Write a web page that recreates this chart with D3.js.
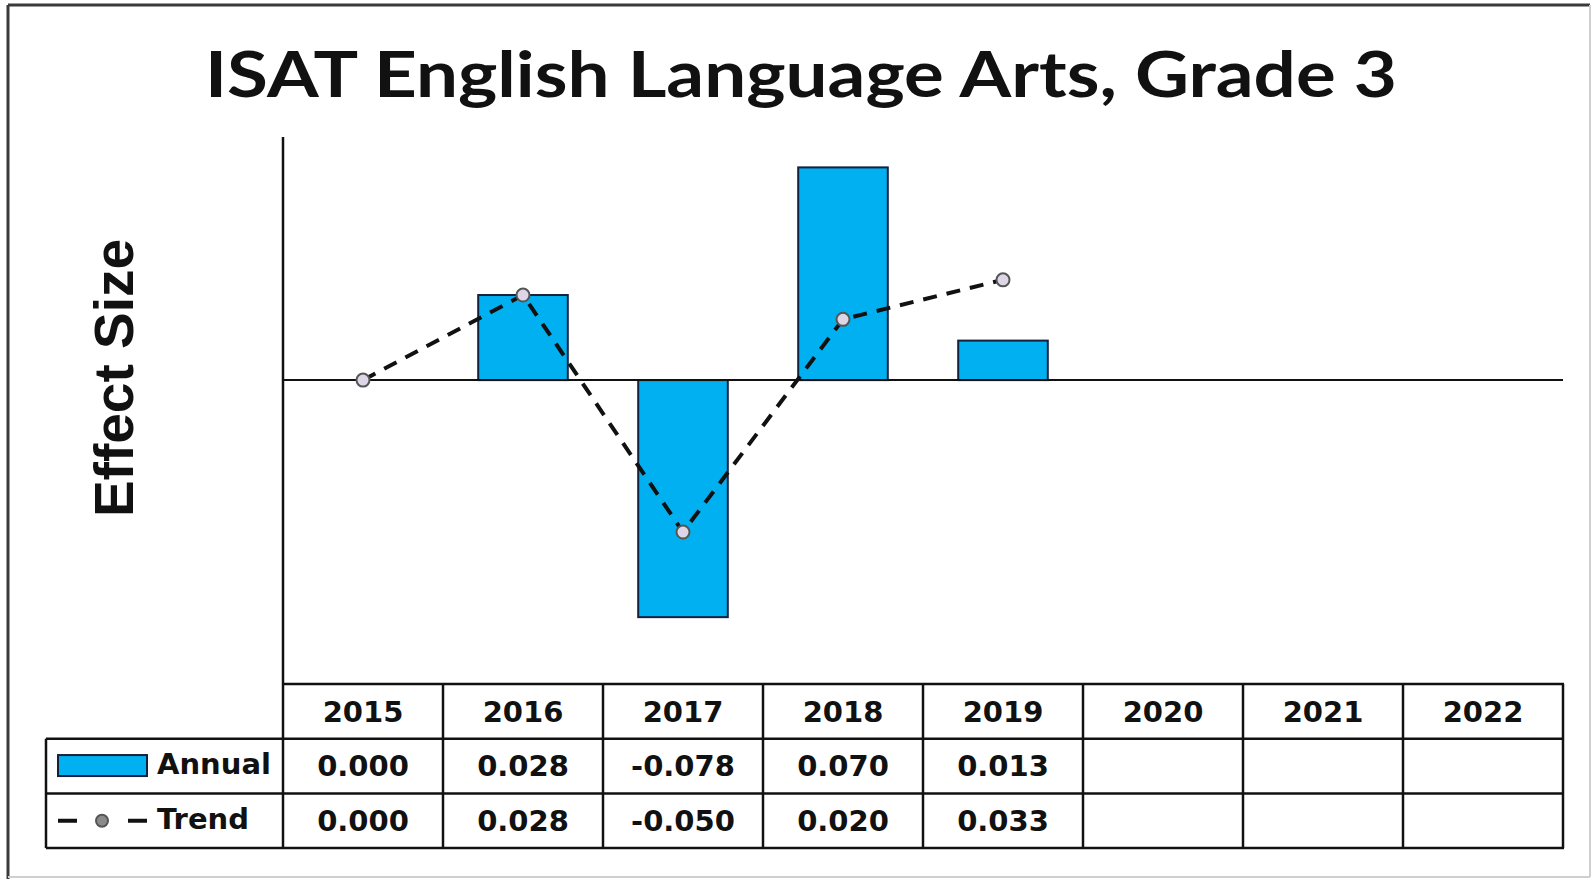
<!DOCTYPE html>
<head>
<meta charset="utf-8">
<script src="https://d3js.org/d3.v7.min.js"></script>
<style>
body { margin: 0; background: white; }
.grid { stroke: #111; stroke-width: 2.5; }
.cell_text { font-family: 'DejaVu Sans', Verdana, sans-serif; font-weight: bold; font-size: 29px; fill: #111; }
.bar { fill: #00b0f0; stroke: #14213d; stroke-width: 2; }
.trend_line { stroke: #111; stroke-width: 4; fill: none; }
.trend_dot { fill: #dcd6e6; stroke: #555; stroke-width: 2; }
</style>
</head>
<body>
<div id="plotContainer"></div>
<script>

// chart values
var years  = ["2015", "2016", "2017", "2018", "2019", "2020", "2021", "2022"];
var annual = [0.000, 0.028, -0.078, 0.070, 0.013, null, null, null];
var trend  = [0.000, 0.028, -0.050, 0.020, 0.033, null, null, null];
var seriesNames = ["Annual", "Trend"];
var yDomain = [-0.1, 0.08];

var W = 1593, H = 879;
var plot = {left: 283, right: 1563, top: 137, bottom: 684};
var rowH = 54.7;
var legendLeft = 46;

var svg = d3.select("#plotContainer")
    .append("svg")
    .attr("width", W)
    .attr("height", H);

// frame of the whole picture
svg.append("line").attr("x1", 8).attr("y1", 5).attr("x2", 1590).attr("y2", 5)
    .attr("stroke", "#3a3a3a").attr("stroke-width", 3);
svg.append("line").attr("x1", 8).attr("y1", 5).attr("x2", 8).attr("y2", 879)
    .attr("stroke", "#3a3a3a").attr("stroke-width", 3);
svg.append("line").attr("x1", 1590).attr("y1", 5).attr("x2", 1590).attr("y2", 877)
    .attr("stroke", "#cfcfcf").attr("stroke-width", 2);
svg.append("line").attr("x1", 8).attr("y1", 877).attr("x2", 1590).attr("y2", 877)
    .attr("stroke", "#cfcfcf").attr("stroke-width", 2);

var x = d3.scaleBand()
    .domain(years)
    .range([plot.left, plot.right])
    .paddingInner(0.44)
    .paddingOuter(0.22);

var y = d3.scaleLinear()
    .domain(yDomain)
    .range([plot.bottom, plot.top]);

// title
svg.append("text")
    .attr("x", 801)
    .attr("y", 97)
    .attr("text-anchor", "middle")
    .attr("font-family", "Lato, 'Open Sans', sans-serif")
    .attr("font-weight", "bold")
    .attr("font-size", 64)
    .attr("textLength", 1192)
    .attr("lengthAdjust", "spacingAndGlyphs")
    .attr("fill", "#111")
    .text("ISAT English Language Arts, Grade 3");

// y label
svg.append("text")
    .attr("transform", "translate(133," + 378 + ") rotate(-90)")
    .attr("text-anchor", "middle")
    .attr("font-family", "'Liberation Sans', Arial, sans-serif")
    .attr("font-weight", "bold")
    .attr("font-size", 55)
    .attr("fill", "#111")
    .text("Effect Size");

// bars
var barData = years.map(function(d, i) { return {year: d, v: annual[i]}; })
    .filter(function(d) { return d.v !== null; });

svg.selectAll(".bar")
    .data(barData)
    .enter()
    .append("rect")
    .attr("class", "bar")
    .attr("x", function(d) { return x(d.year); })
    .attr("width", x.bandwidth())
    .attr("y", function(d) { return y(Math.max(0, d.v)); })
    .attr("height", function(d) { return Math.abs(y(d.v) - y(0)); });

// axis line and zero line
svg.append("line").attr("class", "grid")
    .attr("x1", plot.left).attr("x2", plot.left)
    .attr("y1", plot.top).attr("y2", plot.bottom);
svg.append("line")
    .attr("x1", plot.left).attr("x2", plot.right)
    .attr("y1", y(0)).attr("y2", y(0))
    .attr("stroke", "#111").attr("stroke-width", 2);

// trend line
var trendData = years.map(function(d, i) { return {year: d, v: trend[i]}; })
    .filter(function(d) { return d.v !== null; });

var cx = function(d) { return x(d.year) + x.bandwidth() / 2; };

var trend_line = d3.line()
    .x(cx)
    .y(function(d) { return y(d.v); });

svg.append("path")
    .datum(trendData)
    .attr("class", "trend_line")
    .style("stroke-dasharray", "14, 10")
    .attr("d", trend_line);

svg.selectAll(".trend_dot")
    .data(trendData)
    .enter()
    .append("circle")
    .attr("class", "trend_dot")
    .attr("cx", cx)
    .attr("cy", function(d) { return y(d.v); })
    .attr("r", 6.5);

// data table
var t0 = plot.bottom;
var fmt = d3.formatLocale({decimal: ".", thousands: ",", grouping: [3], currency: ["$", ""], minus: "-"}).format(".3f");
var step = x.step();
var colX = function(i) { return plot.left + i * step; };

// horizontal lines
svg.append("line").attr("class", "grid")
    .attr("x1", plot.left - 1).attr("x2", plot.right + 1)
    .attr("y1", t0).attr("y2", t0);
[1, 2, 3].forEach(function(r) {
  svg.append("line").attr("class", "grid")
    .attr("x1", legendLeft).attr("x2", plot.right + 1)
    .attr("y1", t0 + r * rowH).attr("y2", t0 + r * rowH);
});
// vertical lines
d3.range(years.length + 1).forEach(function(i) {
  svg.append("line").attr("class", "grid")
    .attr("x1", colX(i)).attr("x2", colX(i))
    .attr("y1", t0).attr("y2", t0 + 3 * rowH);
});
svg.append("line").attr("class", "grid")
    .attr("x1", legendLeft).attr("x2", legendLeft)
    .attr("y1", t0 + rowH).attr("y2", t0 + 3 * rowH);

// header
svg.selectAll(".year_text")
    .data(years)
    .enter()
    .append("text")
    .attr("class", "cell_text")
    .attr("x", function(d, i) { return colX(i) + step / 2; })
    .attr("y", t0 + rowH / 2)
    .attr("dy", "0.36em")
    .attr("text-anchor", "middle")
    .text(function(d) { return d; });

[annual, trend].forEach(function(vals, r) {
  svg.selectAll(".val_text_" + r)
    .data(vals)
    .enter()
    .append("text")
    .attr("class", "cell_text")
    .attr("x", function(d, i) { return colX(i) + step / 2; })
    .attr("y", t0 + (r + 1) * rowH + rowH / 2)
    .attr("dy", "0.36em")
    .attr("text-anchor", "middle")
    .text(function(d) { return d === null ? "" : fmt(d); });

  svg.append("text")
    .attr("class", "cell_text")
    .attr("x", 157)
    .attr("y", t0 + (r + 1) * rowH + rowH / 2 - 2)
    .attr("dy", "0.36em")
    .text(seriesNames[r]);
});

// legend keys
var r1 = t0 + rowH + rowH / 2;
svg.append("rect")
    .attr("class", "bar")
    .attr("x", 58).attr("y", r1 - 11)
    .attr("width", 89).attr("height", 21);

var r2 = t0 + 2 * rowH + rowH / 2;
svg.append("line").attr("class", "trend_line")
    .attr("x1", 58).attr("x2", 77)
    .attr("y1", r2).attr("y2", r2);
svg.append("line").attr("class", "trend_line")
    .attr("x1", 128).attr("x2", 147)
    .attr("y1", r2).attr("y2", r2);
svg.append("circle").attr("class", "trend_dot")
    .attr("cx", 102).attr("cy", r2).attr("r", 6)
    .style("fill", "#8a8a8a");

</script>
</body>
